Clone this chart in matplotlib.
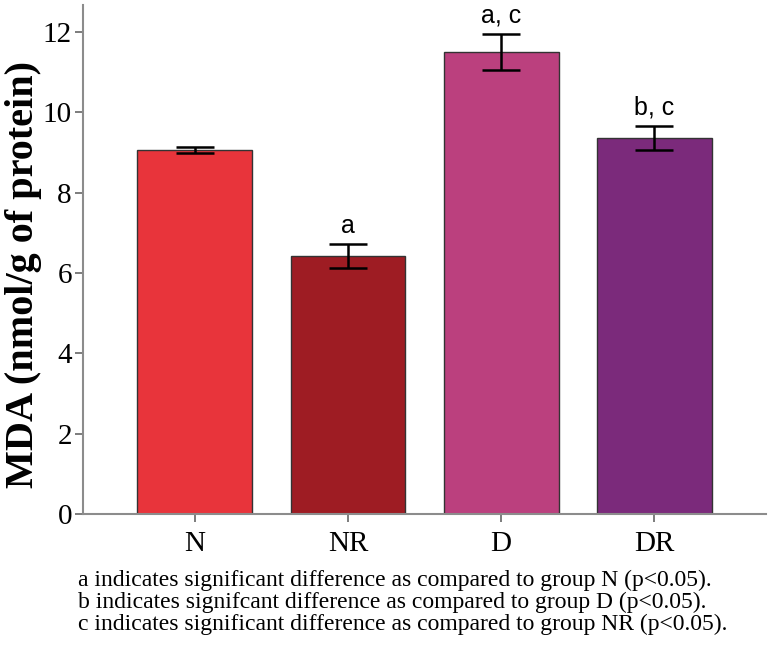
import matplotlib
matplotlib.use("Agg")
import matplotlib.pyplot as plt

groups = ["N", "NR", "D", "DR"]
mda_mean = [9.06, 6.42, 11.50, 9.36]
mda_err = [0.08, 0.30, 0.45, 0.30]
sig_labels = ["", "a", "a,c", "b,c"]
bar_colors = ["#E8343B", "#9E1C23", "#BB407E", "#7B2A7B"]
footnotes = [
    "a indicates significant difference as compared to group N (p<0.05).",
    "b indicates signifcant difference as compared to group D (p<0.05).",
    "c indicates significant difference as compared to group NR (p<0.05).",
]

fig = plt.figure(figsize=(7.71, 6.5), dpi=100)
ax = fig.add_axes([0.1077, 0.2092, 0.886, 0.783])

x = range(len(groups))
ax.bar(x, mda_mean, width=0.75, color=bar_colors, edgecolor="#333333", linewidth=1.0)
ax.errorbar(x, mda_mean, yerr=mda_err, fmt="none", ecolor="black",
            elinewidth=1.8, capsize=13.5, capthick=1.8)

for xi, m, e, s in zip(x, mda_mean, mda_err, sig_labels):
    if s:
        ax.text(xi, m + e + 0.15, s.replace(",", ", "), ha="center", va="bottom",
                fontsize=18, family="Liberation Sans")

ax.set_xlim(-0.73, 3.73)
ax.set_ylim(0, 12.67)
ax.set_yticks([0, 2, 4, 6, 8, 10, 12])
ax.set_xticks(list(x))
ax.set_xticklabels(groups)

for side in ["top", "right"]:
    ax.spines[side].set_visible(False)
for side in ["left", "bottom"]:
    ax.spines[side].set_color("#8c8c8c")
    ax.spines[side].set_linewidth(1.5)
ax.tick_params(axis="both", colors="#666666", length=6, width=1.2,
               labelcolor="black", labelsize=21)
for lab in ax.get_xticklabels() + ax.get_yticklabels():
    lab.set_family("Liberation Serif")
ax.tick_params(axis="y", pad=2)
ax.tick_params(axis="x", pad=6)

ax.set_ylabel("MDA (nmol/g of protein)", fontsize=29, fontweight="bold",
              family="Liberation Serif", va="center")
ax.yaxis.set_label_coords(-0.087, 0.47)

for i, line in enumerate(footnotes):
    fig.text(0.101, 0.107 - i * 0.034, line, fontsize=17,
             family="Liberation Serif", ha="left", va="center")

fig.savefig("out.png", dpi=100)
